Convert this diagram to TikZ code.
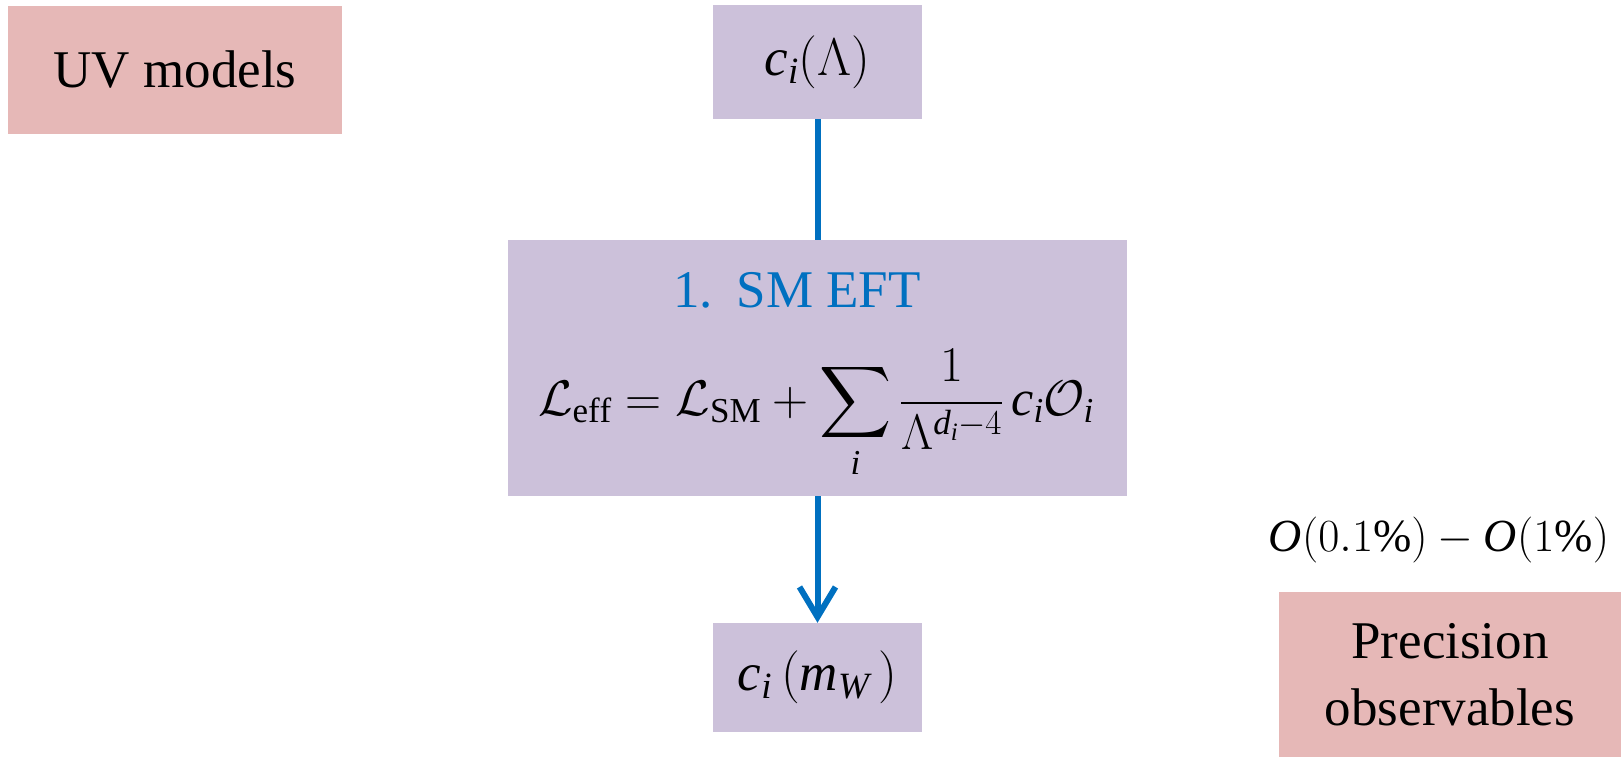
\RequirePackage{fix-cm}
\documentclass[tikz,border=0pt]{standalone}
\usepackage{amsmath}
\usepackage{fontspec}
\setmainfont{Liberation Serif}
\DeclareFontFamily{OMX}{cmex}{}
\DeclareFontShape{OMX}{cmex}{m}{n}{<-> cmex10}{}
\DeclareSymbolFont{largesymbols}{OMX}{cmex}{m}{n}
\usetikzlibrary{arrows.meta}
\definecolor{boxpurple}{HTML}{CCC1DA}
\definecolor{boxpink}{HTML}{E6B8B7}
\definecolor{linkblue}{HTML}{0070C0}
\tikzset{
  pinkbox/.style={fill=boxpink, draw=none, inner sep=0pt, align=center},
  purplebox/.style={fill=boxpurple, draw=none, inner sep=0pt, align=center},
  bigtext/.style={font=\fontsize{53}{67}\selectfont},
  link/.style={draw=linkblue, line width=6pt},
}
\begin{document}
\begin{tikzpicture}[x=1pt,y=-1pt]
\useasboundingbox (0,0) rectangle (1621,757);
\node[pinkbox, bigtext, minimum width=334pt, minimum height=128pt] (uv) at (175,70) {UV models};
\node[purplebox, bigtext, minimum width=209pt, minimum height=114pt] (cL) at (817.5,62) {$\mathit{c}_{\mathit{i}}(\Lambda)$};
\node[purplebox, minimum width=619pt, minimum height=256pt] (eft) at (817.5,368) {};
\node[bigtext, text=linkblue, inner sep=0pt] (title) at (797,290) {1.\hspace{0.45em}SM EFT};
\node[font=\fontsize{50}{60}\selectfont, inner sep=0pt] (eq) at (816,414) {$\displaystyle\mathcal{L}_{\mathrm{eff}} = \mathcal{L}_{\mathrm{SM}} + \sum_{\mathit{i}} \frac{1}{\Lambda^{\mathit{d}_{\mathit{i}}-4}}\,\mathit{c}_{\mathit{i}}\mathcal{O}_{\mathit{i}}$};
\node[purplebox, bigtext, minimum width=209pt, minimum height=109pt] (cm) at (817.5,677.5) {$\mathit{c}_{\mathit{i}}\,(\mathit{m}_{\mathit{W}}\,)$};
\node[inner sep=0pt, font=\fontsize{46}{55}\selectfont] (acc) at (1439,540) {$\mathit{O}(0.1\%)-\mathit{O}(1\%)$};
\node[pinkbox, bigtext, minimum width=342pt, minimum height=165pt] (prec) at (1450,674.5) {Precision\\observables};
\draw[link] (cL.south) -- (eft.north);
\draw[link, -{Straight Barb[length=30pt,width=36pt]}] (eft.south) -- (cm.north);
\end{tikzpicture}
\end{document}
